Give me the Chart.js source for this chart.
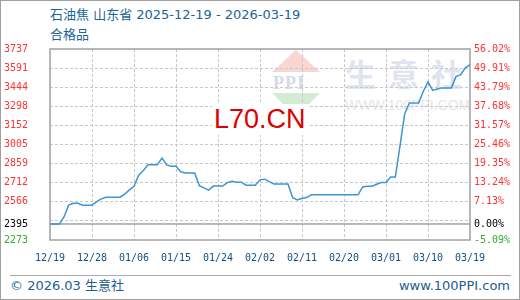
<!DOCTYPE html>
<html>
<head>
<meta charset="utf-8">
<script src="https://cdn.jsdelivr.net/npm/chart.js@4.4.1/dist/chart.umd.min.js"></script>
<style>
  html, body { margin: 0; padding: 0; background: #fff; }
  #wrap { position: relative; width: 520px; height: 300px; overflow: hidden; font-family: "DejaVu Sans", "Noto Sans CJK SC", sans-serif; }
  #wrap canvas { position: absolute; left: 0; top: 0; z-index: 2; }
  .frame { position: absolute; left: 0; top: 0; width: 518px; height: 298px; border: 1px solid #a0a0a0; z-index: 3; pointer-events: none; }
  .title { position: absolute; left: 50px; font-size: 13px; line-height: 15px; color: #1c6597; white-space: nowrap; }
  .foot-line { position: absolute; left: 10px; top: 275px; width: 501px; border-top: 1px solid #aaa; }
  .foot { position: absolute; top: 278px; font-size: 13px; line-height: 15px; color: #1c5d90; white-space: nowrap; }
  .wm { position: absolute; z-index: 1; white-space: nowrap; }
  .tri-up { position: absolute; left: 272px; top: 50px; width: 0; height: 0; border-left: 24px solid transparent; border-right: 24px solid transparent; border-bottom: 22px solid #f9d6d2; z-index: 1; }
  .tri-down { position: absolute; left: 272px; top: 93px; width: 0; height: 0; border-left: 24px solid transparent; border-right: 24px solid transparent; border-top: 24px solid #d3ebd4; z-index: 1; }
  .stamp { position: absolute; left: 212px; top: 104px; padding: 0 2px; z-index: 3; background: #fff; font: 27px 'Liberation Sans', sans-serif; line-height: 31px; color: #dd0000; white-space: nowrap; }
</style>
</head>
<body>
<div id="wrap">
  <div class="tri-up"></div>
  <div class="wm" style="left:273px; top:73px; font: bold 18px 'Liberation Serif', serif; color:#d3dae8; letter-spacing:1px;">PPI</div>
  <div class="tri-down"></div>
  <div class="wm" style="left:345px; top:50px; font: bold 31px 'Noto Sans CJK SC', sans-serif; color:#dfe4ef; letter-spacing:12px;">生意社</div>
  <div class="wm" style="left:345px; top:97px; font: 14px 'Liberation Sans', sans-serif; color:#e6e6e6;">WWW.100PPI.COM</div>

  <div class="title" style="top:7px;">石油焦 山东省 2025-12-19 - 2026-03-19</div>
  <div class="title" style="top:27px;">合格品</div>

  <canvas id="priceChart" width="520" height="300"></canvas>

  <div class="stamp">L70.CN</div>
  <div class="foot-line"></div>
  <div class="foot" style="left:10px;">© 2026.03 生意社</div>
  <div class="foot" style="right:10px;">www.100PPI.com</div>
  <div class="frame"></div>
</div>
<script>
// Daily dates, 2025-12-19 to 2026-03-19
const dates = [
  '12/19', '12/20', '12/21', '12/22', '12/23', '12/24', '12/25', '12/26', '12/27', '12/28', '12/29', '12/30', '12/31',
  '01/01', '01/02', '01/03', '01/04', '01/05', '01/06', '01/07', '01/08', '01/09', '01/10', '01/11', '01/12', '01/13',
  '01/14', '01/15', '01/16', '01/17', '01/18', '01/19', '01/20', '01/21', '01/22', '01/23', '01/24', '01/25', '01/26',
  '01/27', '01/28', '01/29', '01/30', '01/31',
  '02/01', '02/02', '02/03', '02/04', '02/05', '02/06', '02/07', '02/08', '02/09', '02/10', '02/11', '02/12', '02/13',
  '02/14', '02/15', '02/16', '02/17', '02/18', '02/19', '02/20', '02/21', '02/22', '02/23', '02/24', '02/25', '02/26',
  '02/27', '02/28',
  '03/01', '03/02', '03/03', '03/04', '03/05', '03/06', '03/07', '03/08', '03/09', '03/10', '03/11', '03/12', '03/13',
  '03/14', '03/15', '03/16', '03/17', '03/18', '03/19',
];

// Price (yuan/ton)
const prices = [
  2395, 2395, 2395, 2450, 2540, 2555, 2555, 2540, 2540, 2540,
  2567, 2588, 2601, 2601, 2601, 2601, 2624, 2657, 2684, 2770,
  2806, 2849, 2849, 2849, 2901, 2849, 2839, 2839, 2796, 2786,
  2786, 2786, 2690, 2672, 2655, 2686, 2686, 2686, 2713, 2724,
  2716, 2716, 2693, 2693, 2693, 2734, 2739, 2720, 2703, 2703,
  2703, 2703, 2598, 2580, 2593, 2598, 2619, 2619, 2619, 2619,
  2619, 2619, 2619, 2619, 2619, 2619, 2619, 2680, 2685, 2685,
  2700, 2713, 2713, 2755, 2755, 2994, 3240, 3324, 3324, 3324,
  3413, 3485, 3420, 3431, 3439, 3439, 3439, 3525, 3541, 3593,
  3618,
];

// Axis ticks
const baseValue = 2395;
const yTicks = [2273, 2395, 2566, 2712, 2859, 3005, 3152, 3298, 3444, 3591, 3737];
const pctLabels = ['-5.09%', '0.00%', '7.13%', '13.24%', '19.35%', '25.46%', '31.57%', '37.68%', '43.79%', '49.91%', '56.02%'];

// grid is evenly spaced, so one dashed line sits just above the base line
const yMin = yTicks[0];
const yMax = yTicks[yTicks.length - 1];
const gridValues = [yMin, baseValue, yMin + (yMax - yMin) / 10].concat(yTicks.slice(2));

const tickFont = { family: 'DejaVu Sans Mono', size: 10 };

function tickColor(c) {
  const v = c.tick ? c.tick.value : 0;
  if (v === yMin) return '#33aa33';
  if (v === baseValue) return '#000000';
  return '#ff3333';
}

function gridColor(c) {
  const v = c.tick ? c.tick.value : 0;
  return (v === yMin || v === baseValue || v === yMax) ? 'rgba(0,0,0,0)' : '#c8c8c8';
}

// plot frame plus the solid base line
const plotFrame = {
  id: 'plotFrame',
  beforeDatasetsDraw(chart) {
    const { ctx, chartArea: a, scales } = chart;
    const yb = scales.y.getPixelForValue(baseValue);
    ctx.save();
    ctx.strokeStyle = '#a0a0a0';
    ctx.lineWidth = 1.5;
    ctx.beginPath();
    ctx.moveTo(a.left, yb);
    ctx.lineTo(a.right, yb);
    ctx.stroke();
    ctx.strokeRect(a.left, a.top, a.right - a.left, a.bottom - a.top);
    ctx.restore();
  },
};

new Chart(document.getElementById('priceChart'), {
  type: 'line',
  data: {
    labels: dates,
    datasets: [
      {
        data: prices,
        borderColor: '#3b95d6',
        borderWidth: 1.5,
        pointRadius: 0,
        tension: 0,
        fill: false,
      },
    ],
  },
  options: {
    responsive: false,
    animation: false,
    layout: { padding: { left: 4, right: 0, top: 49, bottom: 0 } },
    plugins: { legend: { display: false }, tooltip: { enabled: false } },
    scales: {
      x: {
        afterBuildTicks: (s) => { s.ticks = s.ticks.filter((t, i) => i % 9 === 0); },
        afterFit: (s) => { s.height = 60; },
        grid: {
          color: (c) => (c.index === 0 || c.index === 10) ? 'rgba(0,0,0,0)' : '#c8c8c8',
          drawTicks: false,
        },
        border: { display: false, dash: [3, 2] },
        ticks: { autoSkip: false, maxRotation: 0, padding: 12, color: '#134f82', font: tickFont },
      },
      y: {
        position: 'left',
        min: yMin,
        max: yMax,
        afterBuildTicks: (s) => { s.ticks = gridValues.map((v) => ({ value: v })); },
        afterFit: (s) => { s.width = 46; },
        grid: { color: gridColor, drawTicks: false },
        border: { display: false, dash: [3, 2] },
        ticks: {
          crossAlign: 'far',
          padding: 0,
          font: tickFont,
          color: tickColor,
          callback: (v) => (yTicks.includes(v) ? String(v) : ''),
        },
      },
      y1: {
        position: 'right',
        min: yMin,
        max: yMax,
        afterBuildTicks: (s) => { s.ticks = gridValues.map((v) => ({ value: v })); },
        afterFit: (s) => { s.width = 50; },
        grid: { drawOnChartArea: false, drawTicks: false },
        border: { display: false },
        ticks: {
          padding: 4,
          font: tickFont,
          color: tickColor,
          callback: (v) => (yTicks.includes(v) ? pctLabels[yTicks.indexOf(v)] : ''),
        },
      },
    },
  },
  plugins: [plotFrame],
});
</script>
</body>
</html>
